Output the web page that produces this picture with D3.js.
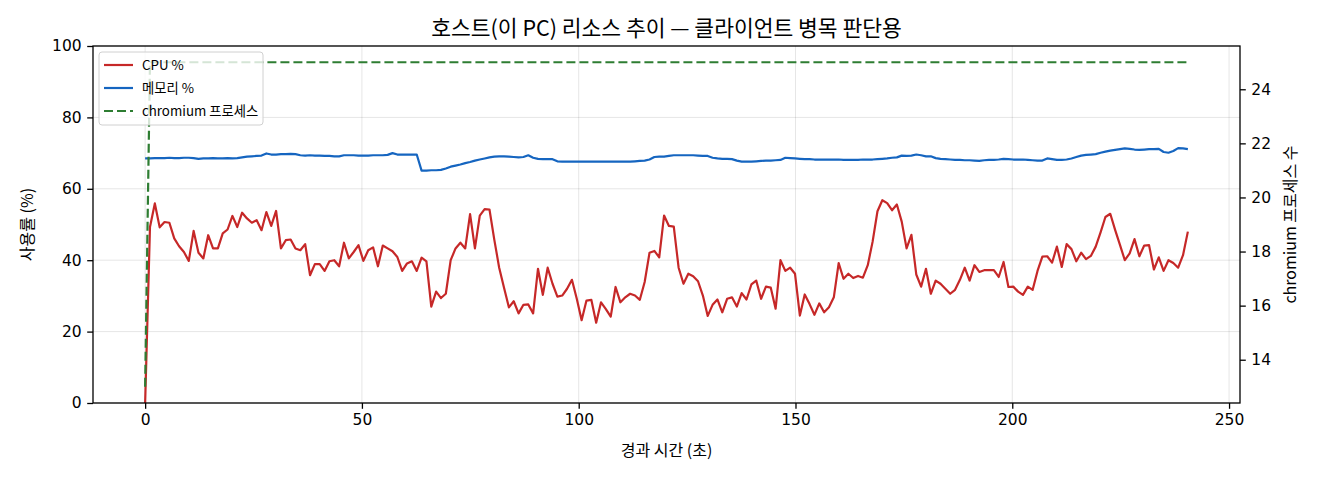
<!DOCTYPE html>
<html>
<head>
<meta charset="utf-8">
<script src="https://cdn.jsdelivr.net/npm/d3@7"></script>
<style>
  body { margin: 0; background: #fff; }
  text { font-family: "Noto Sans CJK KR", "Noto Sans", sans-serif; fill: #000; }
  .tick text { font-family: "DejaVu Sans", "Noto Sans CJK KR", sans-serif; }
</style>
</head>
<body>
<div id="chart"></div>
<script>
// sampling interval of the monitor (seconds between samples)
const SAMPLE_SEC = 1.1186;

// CPU usage % per sample
const cpu = [
  0, 49.3, 55.9, 49.2, 50.7, 50.5, 46.1, 43.9, 42.3, 39.8,
  48.2, 42.1, 40.5, 47.0, 43.3, 43.3, 47.5, 48.6, 52.4, 49.3,
  53.3, 51.7, 50.5, 51.2, 48.4, 53.5, 49.6, 53.8, 43.3, 45.6,
  45.8, 43.3, 42.8, 44.5, 35.8, 38.9, 38.9, 37.0, 39.7, 40.0,
  38.3, 44.9, 40.5, 42.3, 44.2, 39.8,
  42.8, 43.6, 38.3, 44.1, 43.3, 42.5, 40.9, 37.0, 39.1, 39.7,
  37.0, 40.7, 39.7, 27.0, 31.2, 29.4, 30.6, 40.0, 43.3, 44.9,
  43.3, 52.9, 43.3, 52.5, 54.3, 54.2, 45.7, 37.9, 32.3, 26.8,
  28.5, 25.1, 27.5, 27.6, 25.1, 37.6, 30.3, 37.9, 33.4, 29.8,
  30.1, 32.0, 34.5, 29.2, 23.2,
  28.7, 28.9, 22.5, 28.2, 26.3, 24.2, 32.5, 28.2, 29.6, 30.6,
  30.1, 28.9, 33.9, 42.1, 42.6, 40.8, 52.5, 49.6, 49.4, 37.9,
  33.4, 36.2, 35.5, 34.1, 30.1, 24.4, 27.5, 29.0, 25.4, 29.2,
  29.6, 27.0, 30.8, 29.0, 33.2, 34.3, 29.2, 32.6, 32.3, 26.4,
  40.0, 37.0, 37.9, 36.2, 24.5,
  30.4, 27.7, 24.7, 27.9, 25.4, 26.8, 29.6, 39.2, 34.8, 36.2,
  35.0, 35.6, 35.1, 38.6, 45.2, 53.7, 56.8, 56.0, 54.0, 55.6,
  50.8, 43.3, 47.1, 36.0, 32.6, 37.6, 30.6, 34.3, 33.4, 32.0,
  30.6, 31.7, 34.5, 37.9, 34.3, 38.6, 36.7, 37.2, 37.2, 37.2,
  35.3, 39.5, 32.5, 32.6, 31.2, 30.3,
  32.6, 31.7, 37.0, 41.0, 41.1, 39.3, 43.8, 38.1, 44.5, 43.1,
  39.7, 42.1, 40.3, 41.2, 43.8, 47.8, 52.1, 53.0, 48.5, 44.3,
  40.0, 41.9, 45.9, 41.1, 44.1, 44.2, 37.4, 40.8, 37.0, 40.0,
  39.2, 37.9, 41.4, 48.0
];

// memory usage % per sample
const mem = [
  68.5, 68.5, 68.6, 68.6, 68.6, 68.7, 68.6, 68.6, 68.7, 68.7,
  68.6, 68.4, 68.5, 68.5, 68.6, 68.5, 68.5, 68.6, 68.5, 68.6,
  68.8, 69.0, 69.1, 69.2, 69.3, 69.9, 69.6, 69.6, 69.7, 69.7,
  69.8, 69.7, 69.4, 69.3, 69.4, 69.3, 69.3, 69.2, 69.2, 69.1,
  69.1, 69.4, 69.4, 69.4, 69.3, 69.3, 69.3, 69.4, 69.4, 69.4,
  69.5, 70.0, 69.6, 69.6, 69.6, 69.6, 69.6, 65.1, 65.1, 65.2,
  65.2, 65.3, 65.7, 66.2, 66.5, 66.8, 67.2, 67.5, 67.9, 68.2,
  68.5, 68.8, 69.0, 69.1, 69.1, 69.0, 68.9, 68.8, 68.9, 69.4,
  68.7, 68.4, 68.3, 68.3, 68.3, 67.7, 67.6, 67.6, 67.6, 67.6,
  67.6, 67.6, 67.6, 67.6, 67.6, 67.6, 67.6, 67.6, 67.6, 67.6,
  67.6, 67.7, 67.8, 67.9, 68.2, 68.9, 69.0, 69.0, 69.2, 69.4,
  69.4, 69.4, 69.4, 69.4, 69.3, 69.2, 69.2, 68.7, 68.5, 68.4,
  68.4, 68.3, 67.9, 67.6, 67.6, 67.6, 67.7, 67.8, 67.9, 67.9,
  68.0, 68.1, 68.7, 68.6, 68.5, 68.4, 68.3, 68.3, 68.2, 68.2,
  68.2, 68.2, 68.2, 68.2, 68.1, 68.1, 68.1, 68.1, 68.2, 68.2,
  68.2, 68.3, 68.4, 68.5, 68.7, 68.8, 69.3, 69.2, 69.3, 69.6,
  69.4, 69.1, 69.1, 68.6, 68.4, 68.3, 68.2, 68.1, 68.1, 68.0,
  68.0, 67.9, 67.8, 68.0, 68.1, 68.1, 68.2, 68.4, 68.3, 68.2,
  68.2, 68.2, 68.1, 68.0, 67.9, 67.9, 68.5, 68.3, 68.1, 68.1,
  68.2, 68.5, 68.9, 69.3, 69.5, 69.6, 69.7, 70.1, 70.4, 70.7,
  70.9, 71.1, 71.3, 71.2, 71.0, 70.9, 71.0, 71.1, 71.1, 71.2,
  70.3, 70.1, 70.6, 71.4, 71.3, 71.1
];

// chromium process count per sample
const procs = [
  13, 25, 25, 25, 25, 25, 25, 25, 25, 25, 25, 25, 25, 25, 25, 25, 25, 25, 25, 25,
  25, 25, 25, 25, 25, 25, 25, 25, 25, 25, 25, 25, 25, 25, 25, 25, 25, 25, 25, 25,
  25, 25, 25, 25, 25, 25, 25, 25, 25, 25, 25, 25, 25, 25, 25, 25, 25, 25, 25, 25,
  25, 25, 25, 25, 25, 25, 25, 25, 25, 25, 25, 25, 25, 25, 25, 25, 25, 25, 25, 25,
  25, 25, 25, 25, 25, 25, 25, 25, 25, 25, 25, 25, 25, 25, 25, 25, 25, 25, 25, 25,
  25, 25, 25, 25, 25, 25, 25, 25, 25, 25, 25, 25, 25, 25, 25, 25, 25, 25, 25, 25,
  25, 25, 25, 25, 25, 25, 25, 25, 25, 25, 25, 25, 25, 25, 25, 25, 25, 25, 25, 25,
  25, 25, 25, 25, 25, 25, 25, 25, 25, 25, 25, 25, 25, 25, 25, 25, 25, 25, 25, 25,
  25, 25, 25, 25, 25, 25, 25, 25, 25, 25, 25, 25, 25, 25, 25, 25, 25, 25, 25, 25,
  25, 25, 25, 25, 25, 25, 25, 25, 25, 25, 25, 25, 25, 25, 25, 25, 25, 25, 25, 25,
  25, 25, 25, 25, 25, 25, 25, 25, 25, 25, 25, 25, 25, 25, 25, 25
];

const xTicks = [0, 50, 100, 150, 200, 250];
const yTicks = [0, 20, 40, 60, 80, 100];
const y2Ticks = [14, 16, 18, 20, 22, 24];

const width = 1320;
const height = 480;
const margin = { top: 46, right: 80, bottom: 77, left: 93 };

const colors = { cpu: '#c62828', mem: '#1565c0', procs: '#2e7d32' };
const LW = 2.2;
const DASH = '9,4';

const svg = d3.select('#chart')
  .append('svg')
  .attr('width', width)
  .attr('height', height);

const tMax = (cpu.length - 1) * SAMPLE_SEC;
const pad = tMax * 0.05;

const x = d3.scaleLinear()
  .domain([-pad, tMax + pad])
  .range([margin.left, width - margin.right]);

const y = d3.scaleLinear()
  .domain([0, 100])
  .range([height - margin.bottom, margin.top]);

// right axis, padded like matplotlib autoscale
const y2 = d3.scaleLinear()
  .domain([12.4, 25.6])
  .range([height - margin.bottom, margin.top]);

const plotB = height - margin.bottom;
const plotR = width - margin.right;

// grid
const grid = svg.append('g').attr('stroke', '#000').attr('stroke-opacity', 0.1).attr('stroke-width', 1);
grid.selectAll('.gx').data(xTicks).join('line')
  .attr('x1', d => x(d)).attr('x2', d => x(d))
  .attr('y1', margin.top).attr('y2', plotB);
grid.selectAll('.gy').data(yTicks).join('line')
  .attr('x1', margin.left).attr('x2', plotR)
  .attr('y1', d => y(d)).attr('y2', d => y(d));

svg.append('clipPath').attr('id', 'plotclip')
  .append('rect')
  .attr('x', margin.left).attr('y', margin.top)
  .attr('width', plotR - margin.left).attr('height', plotB - margin.top);

function series(arr, scale) {
  return d3.line()
    .x((d, i) => x(i * SAMPLE_SEC))
    .y(d => scale(d))(arr);
}

const plot = svg.append('g').attr('clip-path', 'url(#plotclip)');

plot.append('path')
  .attr('d', series(cpu, y))
  .attr('fill', 'none')
  .attr('stroke', colors.cpu)
  .attr('stroke-width', LW)
  .attr('stroke-linejoin', 'round');

plot.append('path')
  .attr('d', series(mem, y))
  .attr('fill', 'none')
  .attr('stroke', colors.mem)
  .attr('stroke-width', LW)
  .attr('stroke-linejoin', 'round');

// legend (belongs to left axes, so the twin line draws over it)
const legendItems = [
  { label: 'CPU %', color: colors.cpu, dash: null },
  { label: '메모리 %', color: colors.mem, dash: null },
  { label: 'chromium 프로세스', color: colors.procs, dash: DASH }
];
const lg = svg.append('g').attr('transform', 'translate(99,52)');
lg.append('rect')
  .attr('width', 164).attr('height', 73)
  .attr('rx', 3)
  .attr('fill', '#fff').attr('fill-opacity', 0.8)
  .attr('stroke', '#d0d0d0');
const rows = lg.selectAll('g.row').data(legendItems).join('g')
  .attr('transform', (d, i) => `translate(0,${13 + i * 23})`);
rows.append('line')
  .attr('x1', 5).attr('x2', 34)
  .attr('stroke', d => d.color)
  .attr('stroke-width', LW)
  .attr('stroke-dasharray', d => d.dash);
rows.append('text')
  .attr('x', 43).attr('dy', '0.35em')
  .attr('font-size', 13.3)
  .text(d => d.label);

plot.append('path')
  .attr('d', series(procs, y2))
  .attr('fill', 'none')
  .attr('stroke', colors.procs)
  .attr('stroke-width', LW)
  .attr('stroke-dasharray', DASH);

// axes
function styleAxis(g) {
  g.select('.domain').remove();
  g.selectAll('.tick line').attr('stroke', '#000').attr('stroke-width', 1.3);
  g.selectAll('.tick text').attr('font-size', 15.5).attr('fill', '#000');
}

svg.append('g')
  .attr('transform', `translate(0,${plotB})`)
  .call(d3.axisBottom(x).tickValues(xTicks).tickSize(5.8).tickPadding(5))
  .call(styleAxis);

svg.append('g')
  .attr('transform', `translate(${margin.left},0)`)
  .call(d3.axisLeft(y).tickValues(yTicks).tickSize(5.8).tickPadding(5.5))
  .call(styleAxis);

svg.append('g')
  .attr('transform', `translate(${plotR},0)`)
  .call(d3.axisRight(y2).tickValues(y2Ticks).tickSize(5.8).tickPadding(5.5))
  .call(styleAxis);

// frame
svg.append('rect')
  .attr('x', margin.left).attr('y', margin.top)
  .attr('width', plotR - margin.left).attr('height', plotB - margin.top)
  .attr('fill', 'none').attr('stroke', '#000').attr('stroke-width', 1.3);

// titles
svg.append('text')
  .attr('x', (margin.left + plotR) / 2).attr('y', 28).attr('dy', '0.35em')
  .attr('text-anchor', 'middle').attr('font-size', 21.5)
  .text('호스트(이 PC) 리소스 추이 — 클라이언트 병목 판단용');

svg.append('text')
  .attr('x', (margin.left + plotR) / 2).attr('y', 450).attr('dy', '0.35em')
  .attr('text-anchor', 'middle').attr('font-size', 16)
  .text('경과 시간 (초)');

svg.append('text')
  .attr('transform', `translate(27,${(margin.top + plotB) / 2}) rotate(-90)`)
  .attr('dy', '0.35em')
  .attr('text-anchor', 'middle').attr('font-size', 16)
  .text('사용률 (%)');

svg.append('text')
  .attr('transform', `translate(1290,${(margin.top + plotB) / 2}) rotate(-90)`)
  .attr('dy', '0.35em')
  .attr('text-anchor', 'middle').attr('font-size', 16)
  .text('chromium 프로세스 수');
</script>
</body>
</html>
